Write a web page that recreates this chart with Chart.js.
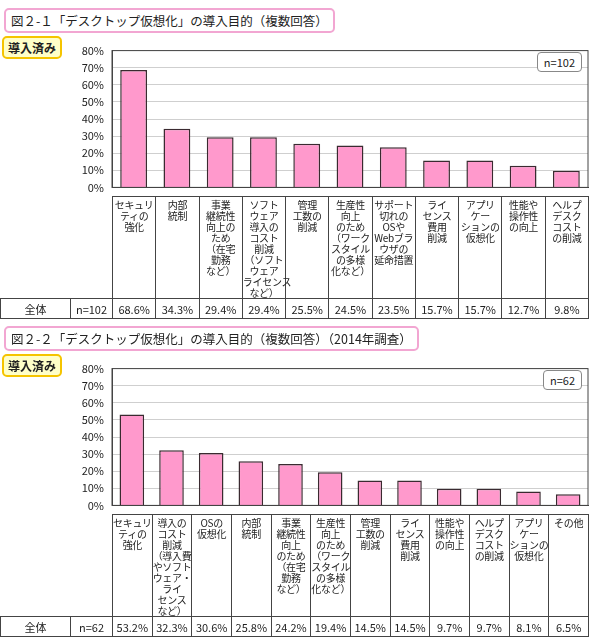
<!DOCTYPE html>
<html><head><meta charset="utf-8">
<script src="https://cdn.jsdelivr.net/npm/chart.js@4/dist/chart.umd.min.js"></script>
<style>
body{margin:0;background:#fff;font-family:"Noto Sans CJK JP",sans-serif;color:#222;}
.sec{position:absolute;left:0;width:590px;}
.title{position:absolute;left:4px;border:2px solid #f2a6d2;border-radius:5px;font-size:12.5px;padding:1px 5px;background:#fff;white-space:nowrap;}
.tag{position:absolute;left:2px;border:2px solid #f5c400;border-radius:5px;background:#ffffc8;font-size:12px;font-weight:bold;padding:1px 4px;}
.nbox{position:absolute;right:8px;border:1px solid #888;border-radius:4px;font-size:11px;padding:1px 6px;background:#fff;}
canvas{position:absolute;left:0;}
table{position:absolute;left:0;border-collapse:collapse;table-layout:fixed;font-size:11px;}
td{border:1px solid #444;text-align:center;padding:0;}
td.lab{vertical-align:top;font-size:10px;line-height:11px;padding-top:2px;white-space:nowrap;letter-spacing:-0.3px;}
td.blank{border:none;}
</style></head><body>
<script>
const ticks = ["0%","10%","20%","30%","40%","50%","60%","70%","80%"];

const labels1 = [
  ["セキュリ","ティの","強化"],["内部","統制"],["事業","継続性","向上の","ため","（在宅","勤務","など）"],
  ["ソフト","ウェア","導入の","コスト","削減","（ソフト","ウェア","ライセンス","など）"],["管理","工数の","削減"],
  ["生産性","向上","のため","（ワーク","スタイル","の多様","化など）"],["サポート","切れの","OSや","Webブラ","ウザの","延命措置"],
  ["ライ","センス","費用","削減"],["アプリ","ケー","ションの","仮想化"],["性能や","操作性","の向上"],["ヘルプ","デスク","コスト","の削減"]
];
const values1 = [68.6,34.3,29.4,29.4,25.5,24.5,23.5,15.7,15.7,12.7,9.8];

const labels2 = [
  ["セキュリ","ティの","強化"],["導入の","コスト","削減","（導入費","やソフト","ウェア・","ライ","センス","など）"],
  ["OSの","仮想化"],["内部","統制"],["事業","継続性","向上","のため","（在宅","勤務","など）"],
  ["生産性","向上","のため","（ワーク","スタイル","の多様","化など）"],["管理","工数の","削減"],
  ["ライ","センス","費用","削減"],["性能や","操作性","の向上"],["ヘルプ","デスク","コスト","の削減"],
  ["アプリ","ケー","ションの","仮想化"],["その他"]
];
const values2 = [53.2,32.3,30.6,25.8,24.2,19.4,14.5,14.5,9.7,9.7,8.1,6.5];

function section(top, title, n, labels, values, labH) {
  const sec = document.createElement("div");
  sec.className = "sec";
  sec.style.top = top + "px";
  document.body.appendChild(sec);

  sec.innerHTML = `<div class="title" style="top:8px">${title}</div>
    <div class="tag" style="top:36px">導入済み</div>`;

  const cv = document.createElement("canvas");
  cv.style.top = "36px";
  cv.style.width = "590px";
  cv.style.height = "166px";
  cv.width = 590; cv.height = 166;
  sec.appendChild(cv);

  const nb = document.createElement("div");
  nb.className = "nbox";
  nb.style.top = "52px";
  nb.textContent = "n=" + n;
  sec.appendChild(nb);

  new Chart(cv, {
    type: "bar",
    data: {
      labels: labels.map((l) => l.join("")),
      datasets: [{
        data: values,
        backgroundColor: "#ff99cc",
        borderColor: "#3a2a30",
        borderWidth: 1.5,
        borderSkipped: "bottom",
        categoryPercentage: 1,
        barPercentage: 0.62
      }]
    },
    options: {
      responsive: false,
      animation: false,
      layout: {padding: {top: 8, right: 2, bottom: 6}},
      plugins: {legend: {display: false}, tooltip: {enabled: false}},
      scales: {
        x: {
          grid: {display: false},
          border: {color: "#444"},
          ticks: {display: false},
          afterFit: (s) => { s.height = 0; }
        },
        y: {
          min: 0, max: 80,
          ticks: {
            stepSize: 10,
            color: "#222",
            padding: 8,
            font: {size: 11, family: "Noto Sans CJK JP"},
            callback: (v) => ticks[v / 10]
          },
          grid: {color: "#cfcfcf", drawTicks: false},
          border: {color: "#444"},
          afterFit: (s) => { s.width = 112; }
        }
      }
    },
    plugins: [{
      id: "box",
      afterDraw(c) {
        const a = c.chartArea, ctx = c.ctx;
        ctx.save();
        ctx.strokeStyle = "#444";
        ctx.lineWidth = 1;
        ctx.strokeRect(a.left, a.top, a.right - a.left, a.bottom - a.top);
        ctx.restore();
      }
    }]
  });

  const colW = (588 - 112) / labels.length;
  const tbl = document.createElement("table");
  tbl.style.top = "196px";
  tbl.style.width = "589px";
  let cols = `<col style="width:70px"><col style="width:42px">` + labels.map(() => `<col style="width:${colW}px">`).join("");
  let r1 = `<tr style="height:${labH}px"><td class="blank"></td><td class="blank" style="border-right:1px solid #444"></td>` +
    labels.map((l) => `<td class="lab">${l.join("<br>")}</td>`).join("") + "</tr>";
  let r2 = `<tr style="height:20px"><td>全体</td><td>n=${n}</td>` +
    values.map((v) => `<td>${v.toFixed(1)}%</td>`).join("") + "</tr>";
  tbl.innerHTML = cols + r1 + r2;
  sec.appendChild(tbl);
}

section(0, "図２-１「デスクトップ仮想化」の導入目的（複数回答）", 102, labels1, values1, 100);
section(318, "図２-２「デスクトップ仮想化」の導入目的（複数回答）（2014年調査）", 62, labels2, values2, 101);
</script>
</body></html>
